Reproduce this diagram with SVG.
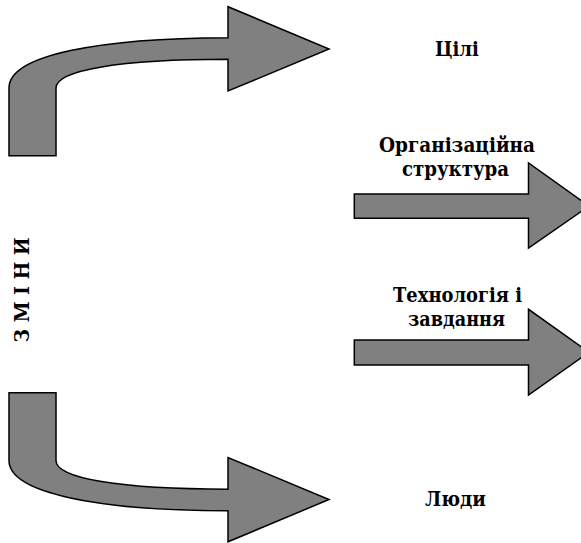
<svg xmlns="http://www.w3.org/2000/svg" width="581" height="543" viewBox="0 0 581 543">
<style>
.arr{fill:#808080;stroke:#000;stroke-width:1.5;stroke-linejoin:miter}
.lbl{font-family:'DejaVu Serif',serif;font-weight:bold;font-size:20px;fill:#000;text-anchor:middle}
</style>
<rect width="581" height="543" fill="#fff"/>
<g id="connectors">
<path id="arrow-top" class="arr" d="M 9 155.7 L 9 88 C 9 55 100 38 228 37.7 L 228 6.7 L 329 49 L 228 91 L 228 59.3 C 120 59.3 56 70 56 88 L 56 155.7 Z"/>
<path id="arrow-org" class="arr" d="M 354.3 194 L 528.5 194 L 528.5 163 L 589 206 L 528.5 248 L 528.5 218.3 L 354.3 218.3 Z"/>
<path id="arrow-tech" class="arr" d="M 354.3 340 L 528.5 340 L 528.5 309.3 L 589 352.3 L 528.5 395 L 528.5 365 L 354.3 365 Z"/>
<path id="arrow-bottom" class="arr" d="M 9 392.8 L 9 460.5 C 9 493.5 100 510.5 228 510.8 L 228 541.8 L 329 499.5 L 228 457.5 L 228 489.2 C 120 489.2 56 478.5 56 460.5 L 56 392.8 Z"/>
</g>
<g id="node-zminy"><text class="lbl" transform="translate(29,290) rotate(-90)" textLength="105" lengthAdjust="spacingAndGlyphs">З М І Н И</text></g>
<g id="node-tsili"><text class="lbl" x="457" y="56" textLength="44" lengthAdjust="spacingAndGlyphs">Цілі</text></g>
<g id="node-org"><text class="lbl" x="457" y="151.5" textLength="156" lengthAdjust="spacingAndGlyphs">Організаційна</text><text class="lbl" x="455.5" y="176" textLength="107" lengthAdjust="spacingAndGlyphs">структура</text></g>
<g id="node-tech"><text class="lbl" x="457.5" y="301.5" textLength="129" lengthAdjust="spacingAndGlyphs">Технологія і</text><text class="lbl" x="456.5" y="325.7" textLength="97" lengthAdjust="spacingAndGlyphs">завдання</text></g>
<g id="node-lyudy"><text class="lbl" x="455.5" y="506" textLength="61" lengthAdjust="spacingAndGlyphs">Люди</text></g>
</svg>
